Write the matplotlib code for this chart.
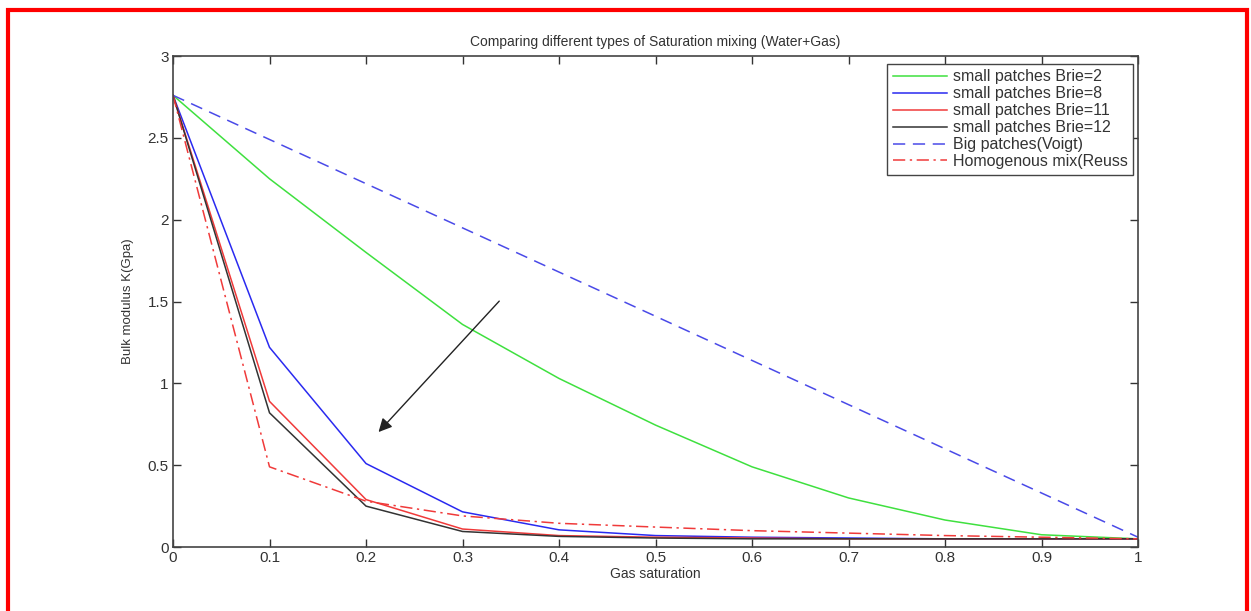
import numpy as np
import matplotlib
matplotlib.use("Agg")
import matplotlib.pyplot as plt
from matplotlib.patches import Rectangle

plt.rcParams['font.family'] = ['Liberation Sans', 'DejaVu Sans']

sg = [0, 0.1, 0.2, 0.3, 0.4, 0.5, 0.6, 0.7, 0.8, 0.9, 1.0]

k_brie2 = [2.76, 2.25, 1.80, 1.36, 1.03, 0.745, 0.49, 0.30, 0.165, 0.075, 0.05]
k_brie8 = [2.76, 1.22, 0.51, 0.215, 0.105, 0.07, 0.06, 0.055, 0.05, 0.05, 0.05]
k_brie11 = [2.76, 0.89, 0.29, 0.11, 0.07, 0.06, 0.055, 0.05, 0.05, 0.05, 0.05]
k_brie12 = [2.76, 0.82, 0.25, 0.095, 0.065, 0.055, 0.05, 0.05, 0.05, 0.05, 0.05]
k_voigt = [2.76, 2.49, 2.22, 1.95, 1.68, 1.41, 1.14, 0.87, 0.60, 0.33, 0.06]
k_reuss = [2.76, 0.49, 0.28, 0.19, 0.145, 0.122, 0.10, 0.085, 0.07, 0.06, 0.05]

labels = ['small patches Brie=2', 'small patches Brie=8', 'small patches Brie=11',
          'small patches Brie=12', 'Big patches(Voigt)', 'Homogenous mix(Reuss']

fig = plt.figure(figsize=(12.51, 6.11), dpi=100)
ax = fig.add_axes([0.1383, 0.1047, 0.7714, 0.8036])

ax.plot(sg, k_brie2, color='#3fe03f', lw=1.1, label=labels[0])
ax.plot(sg, k_brie8, color='#2a2af0', lw=1.1, label=labels[1])
ax.plot(sg, k_brie11, color='#f03a3a', lw=1.1, label=labels[2])
ax.plot(sg, k_brie12, color='#333333', lw=1.1, label=labels[3])
ax.plot(sg, k_voigt, color='#4a4ae8', lw=1.1, ls=(0, (8, 5)), label=labels[4])
ax.plot(sg, k_reuss, color='#f03a3a', lw=1.1, ls=(0, (8, 3, 1.5, 3)), label=labels[5])

# arrow showing increasing Brie exponent
ax.annotate('', xy=(0.211, 0.69), xytext=(0.34, 1.515),
            arrowprops=dict(arrowstyle='-|>', color='#222222', lw=1.0,
                            mutation_scale=20))

ax.set_xlim(0, 1)
ax.set_ylim(0, 3)
ax.set_xticks(np.arange(0, 1.01, 0.1))
ax.set_xticklabels(['0', '0.1', '0.2', '0.3', '0.4', '0.5', '0.6', '0.7', '0.8', '0.9', '1'])
ax.set_yticks(np.arange(0, 3.01, 0.5))
ax.set_yticklabels(['0', '0.5', '1', '1.5', '2', '2.5', '3'])
ax.tick_params(direction='in', top=True, right=True, length=6, width=1,
               colors='#333333', labelsize=11, pad=3)
for s in ax.spines.values():
    s.set_color('#444444')
    s.set_linewidth(1.2)

ax.set_title('Comparing different types of Saturation mixing (Water+Gas)',
             fontsize=10, color='#333333', pad=7)
ax.set_xlabel('Gas saturation', fontsize=10, color='#333333', labelpad=1)
ax.set_ylabel('Bulk modulus K(Gpa)', fontsize=9.5, color='#333333', labelpad=10)

leg = ax.legend(loc='upper right', fontsize=11.5, handlelength=3.4,
                handletextpad=0.35, labelspacing=0.12, borderpad=0.35,
                borderaxespad=0, fancybox=False, framealpha=1,
                bbox_to_anchor=(0.995, 0.984))
leg.get_frame().set_edgecolor('#444444')
leg.get_frame().set_linewidth(1.0)
for t in leg.get_texts():
    t.set_color('#333333')

# red frame around the picture
fig.patches.append(Rectangle((8 / 1251, -0.05), 1239 / 1251, 1.05 - 10 / 611,
                             transform=fig.transFigure, fill=False,
                             edgecolor='red', lw=3))

fig.savefig('out.png', dpi=100)
